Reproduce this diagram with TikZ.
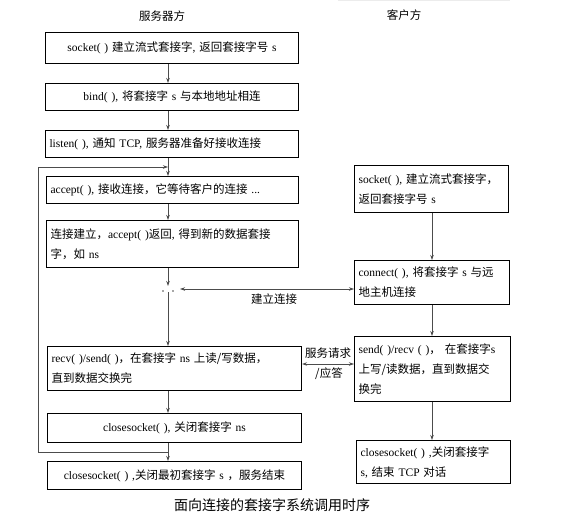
\documentclass[tikz,border=0pt]{standalone}
\usepackage{fontspec}
\setmainfont{Liberation Serif}
\newfontfamily\cjk{Noto Sans CJK SC}
\newcommand\en[1]{{\rmfamily #1}}
\usetikzlibrary{arrows.meta}
\tikzset{
  x=1pt, y=-1pt,
  box/.style={draw=black, line width=1.1pt, anchor=north west, inner xsep=4pt, inner ysep=2pt,
    font=\cjk\fontsize{11.5}{20}\selectfont},
  lbl/.style={font=\cjk\fontsize{11.5}{14}\selectfont, inner sep=0pt},
  conn/.style={draw=black!70, line width=0.7pt},
  arr/.style={conn, -{Stealth[length=5pt,width=3.5pt]}},
  darr/.style={conn, {Stealth[length=5pt,width=3.5pt]}-{Stealth[length=5pt,width=3.5pt]}},
}
\begin{document}
\begin{tikzpicture}
\useasboundingbox (0,0) rectangle (568,528);
\draw[gray!15, line width=0.6pt] (338,0.6) -- (510,0.6);
% titles
\node[lbl] (ts) at (162,16) {服务器方};
\node[lbl] (tc) at (404,15) {客户方};
% server boxes
\node[box, text width=245pt, minimum height=31pt, align=center] (b1) at (45,32)
  {\en{socket( )} 建立流式套接字\en{, }返回套接字号 \en{s}};
\node[box, text width=245pt, minimum height=27pt, align=center] (b2) at (45,83)
  {\en{bind( ),} 将套接字 \en{s} 与本地地址相连};
\node[box, text width=245pt, minimum height=27pt, align=left] (b3) at (45,130)
  {\en{listen( ),} 通知 \en{TCP,} 服务器准备好接收连接};
\node[box, text width=244pt, minimum height=27pt, align=left] (b4) at (46,176)
  {\en{accept( ),} 接收连接，它等待客户的连接 \en{...}};
\node[box, text width=244pt, minimum height=47pt, align=left] (b5) at (46,220)
  {连接建立，\en{accept( )}返回\en{, }得到新的数据套接\\字，如 \en{ns}};
\node[box, text width=246pt, minimum height=44pt, align=left] (b6) at (47,346)
  {\en{recv( )/send( )}，在套接字 \en{ns} 上读/写数据，\\直到数据交换完};
\node[box, text width=246pt, minimum height=29pt, align=center] (b7) at (47,413)
  {\en{closesocket( ),} 关闭套接字 \en{ns}};
\node[box, text width=246pt, minimum height=28pt, align=center] (b8) at (47,461)
  {\en{closesocket( ) ,}关闭最初套接字 \en{s} ，服务结束};
% client boxes
\node[box, text width=146pt, minimum height=47pt, align=left] (c1) at (354,165)
  {\en{socket( ),} 建立流式套接字，\\返回套接字号 \en{s}};
\node[box, text width=147pt, minimum height=44pt, align=left] (c2) at (354,260)
  {\en{connect( ),} 将套接字 \en{s} 与远\\地主机连接};
\node[box, text width=148pt, minimum height=65pt, align=left] (c3) at (354,336)
  {\en{send( )/recv ( )}， 在套接字\en{s}\\上写/读数据，直到数据交\\换完};
\node[box, text width=146pt, minimum height=43pt, align=left] (c4) at (356,440)
  {\en{closesocket( ) ,}关闭套接字\\\en{s,} 结束 \en{TCP} 对话};
% helper coordinates
\coordinate (cx) at (168,0);
\coordinate (ccx) at (432,0);
\coordinate (lx) at (38,0);
\coordinate (j1) at (168,167);
\coordinate (j2) at (168,452);
\coordinate (jc1) at (168,286);
\coordinate (jc2) at (168,292);
\coordinate (ca) at (180,289);
\coordinate (sv) at (330,364);
% server connectors
\draw[arr] (b1.south -| cx) -- (b2.north -| cx);
\draw[arr] (b2.south -| cx) -- (b3.north -| cx);
\draw[arr] (b3.south -| cx) -- (b4.north -| cx);
\draw[arr] (b4.south -| cx) -- (b5.north -| cx);
\draw[arr] (b5.south -| cx) -- (jc1);
\draw[arr] (jc2) -- (b6.north -| cx);
\draw[arr] (b6.south -| cx) -- (b7.north -| cx);
\draw[arr] (b7.south -| cx) -- (b8.north -| cx);
\draw[arr] (j2) -- (j2 -| lx) -- (j1 -| lx) -- (j1);
\fill[black!70] (163,291) circle (0.8pt);
\fill[black!70] (173,291) circle (0.8pt);
% client connectors
\draw[arr] (c1.south -| ccx) -- (c2.north -| ccx);
\draw[arr] (c2.south -| ccx) -- (c3.north -| ccx);
\draw[arr] (c3.south -| ccx) -- (c4.north -| ccx);
% cross connectors
\draw[darr] (c2.west |- ca) -- (ca);
\node[lbl] (lc) at (274,299) {建立连接};
\draw[darr] (b6.east |- sv) -- (c3.west |- sv);
\node[lbl] (ls1) at (328,353) {服务请求};
\node[lbl] (ls2) at (329,374) {/应答};
% caption
\node[font=\cjk\fontsize{14}{16}\selectfont, inner sep=0pt] (cap) at (272,505) {面向连接的套接字系统调用时序};
\end{tikzpicture}
\end{document}
